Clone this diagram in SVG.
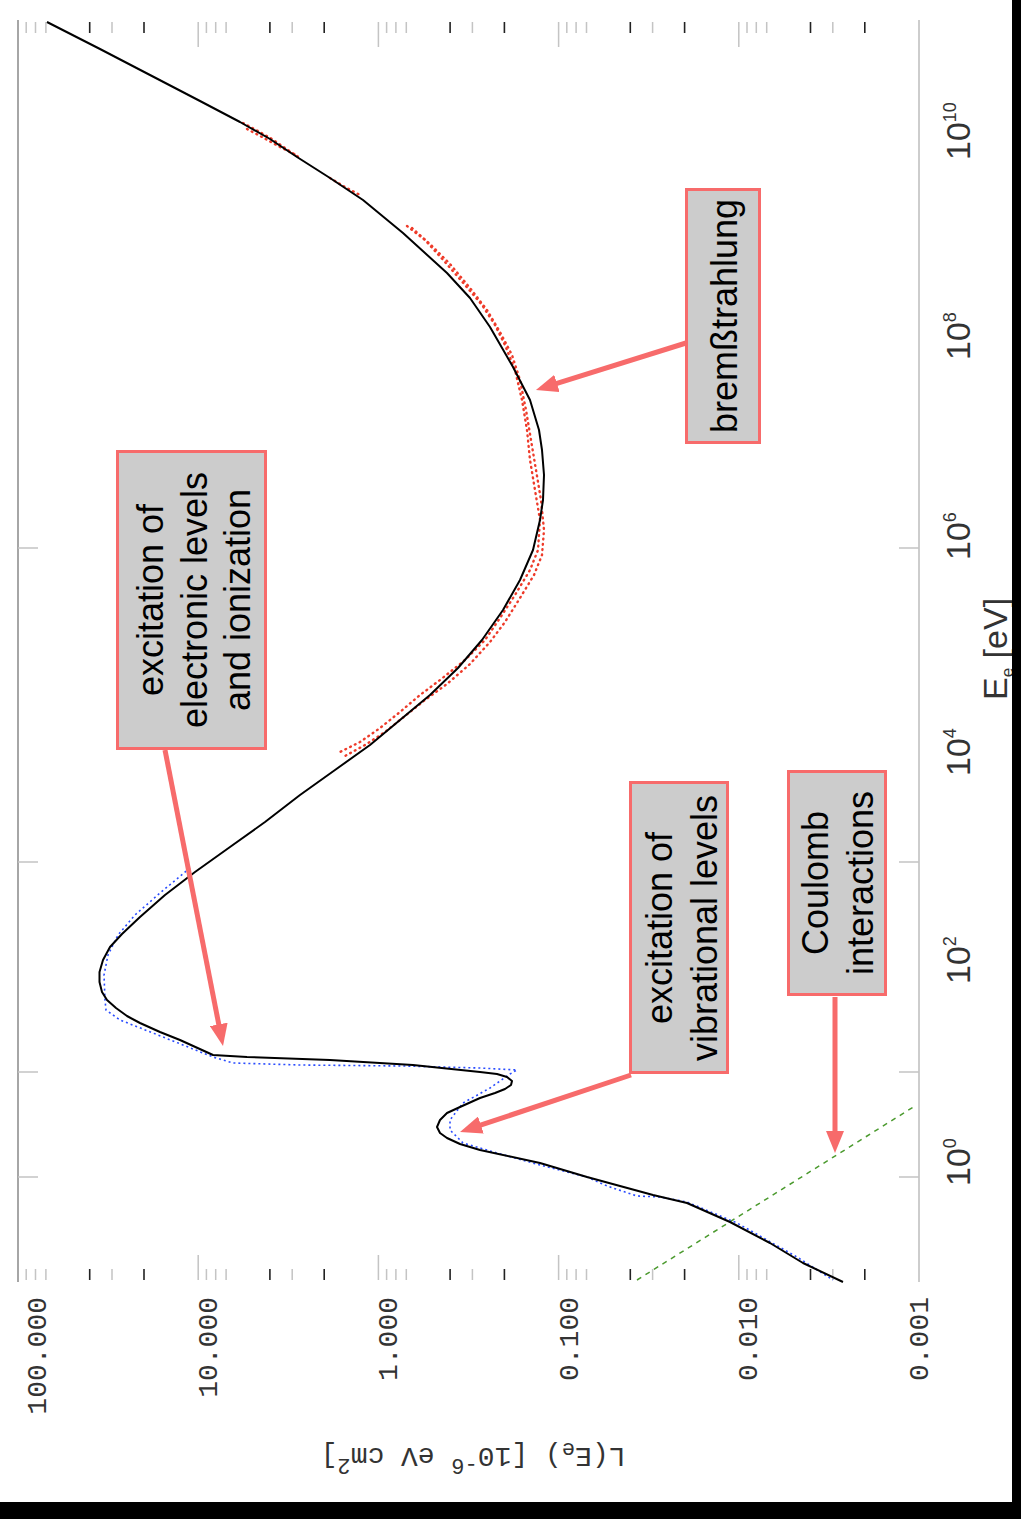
<svg xmlns="http://www.w3.org/2000/svg" width="1021" height="1519" viewBox="0 0 1021 1519">
<style>
.tk{stroke:#222;stroke-width:1.6;fill:none}
.tl{stroke:#c4c4c4;stroke-width:1.5;fill:none}
.ax{stroke:#bdbdbd;stroke-width:1.5;fill:none}
.ylab{font-family:"Liberation Mono","DejaVu Sans Mono",monospace;font-size:28px;fill:#333}
.xlab{font-family:"Liberation Sans",Arial,sans-serif;font-size:34px;fill:#333}
.box{fill:#cccccc;stroke:#f76b6b;stroke-width:3}
.lbl{font-family:"Liberation Sans",Arial,sans-serif;font-size:36px;fill:#000;text-anchor:middle}
.arr{stroke:#f76b6b;stroke-width:5;fill:none;marker-end:url(#ah)}
.blk{stroke:#000;stroke-width:2;fill:none;stroke-linejoin:round}
.blu{stroke:#2a4cff;stroke-width:1.6;fill:none;stroke-dasharray:2 3}
.red{stroke:#ee3b2a;stroke-width:2.4;fill:none;stroke-dasharray:0.8 4.5;stroke-linecap:round}
</style>
<defs>
<marker id="ah" markerUnits="userSpaceOnUse" viewBox="0 0 22 18" refX="10" refY="9" markerWidth="22" markerHeight="18" orient="auto"><path d="M0,0 L22,9 L0,18 Z" fill="#f76b6b"/></marker>
</defs>
<rect x="0" y="0" width="1021" height="1519" fill="#fff"/>

<g id="axes">
<path class="ax" d="M919,20 V1282"/>
<path stroke="#888" stroke-width="1.5" fill="none" d="M18,20 V1282"/>
<path class="tl" d="M198.2,22V47M378.4,22V47M558.6,22V47M738.8,22V47M198.2,1255V1280M378.4,1255V1280M558.6,1255V1280M738.8,1255V1280"/>
<path class="tl" d="M26.2,22V33M35.5,22V33M45.9,22V33M112,22V33M206.4,22V33M215.7,22V33M226.1,22V33M292.2,22V33M386.6,22V33M395.9,22V33M406.3,22V33M472.4,22V33M566.8,22V33M576.1,22V33M586.5,22V33M652.6,22V33M747,22V33M756.3,22V33M766.7,22V33M832.8,22V33"/>
<path class="tl" d="M26.2,1269V1280M35.5,1269V1280M45.9,1269V1280M112,1269V1280M206.4,1269V1280M215.7,1269V1280M226.1,1269V1280M292.2,1269V1280M386.6,1269V1280M395.9,1269V1280M406.3,1269V1280M472.4,1269V1280M566.8,1269V1280M576.1,1269V1280M586.5,1269V1280M652.6,1269V1280M747,1269V1280M756.3,1269V1280M766.7,1269V1280M832.8,1269V1280"/>
<path class="tk" d="M89.7,22V33M144,22V33M269.9,22V33M324.2,22V33M450.1,22V33M504.4,22V33M630.3,22V33M684.6,22V33M810.5,22V33M864.8,22V33"/>
<path class="tk" d="M89.7,1269V1280M144,1269V1280M269.9,1269V1280M324.2,1269V1280M450.1,1269V1280M504.4,1269V1280M630.3,1269V1280M684.6,1269V1280M810.5,1269V1280M864.8,1269V1280"/>
<path class="tl" d="M18,548H38M18,862H38M18,1072H38M18,1177H38M899,548H919M899,862H919M899,1072H919M899,1177H919"/>
<text class="ylab" text-anchor="end" transform="translate(46,1297) rotate(-90)">100.000</text>
<text class="ylab" text-anchor="end" transform="translate(217,1297) rotate(-90)">10.000</text>
<text class="ylab" text-anchor="end" transform="translate(397,1297) rotate(-90)">1.000</text>
<text class="ylab" text-anchor="end" transform="translate(578,1297) rotate(-90)">0.100</text>
<text class="ylab" text-anchor="end" transform="translate(757,1297) rotate(-90)">0.010</text>
<text class="ylab" text-anchor="end" transform="translate(928,1297) rotate(-90)">0.001</text>
<text class="ylab" font-size="32" text-anchor="middle" transform="translate(473,1448) rotate(180)">L(E<tspan font-size="22" dy="5">e</tspan><tspan dy="-5">) [10</tspan><tspan font-size="22" dy="-11">-6</tspan><tspan dy="11"> eV cm</tspan><tspan font-size="22" dy="-11">2</tspan><tspan dy="11">]</tspan></text>
<text class="xlab" transform="translate(970,1186) rotate(-90)">10<tspan font-size="18" dy="-14">0</tspan></text>
<text class="xlab" transform="translate(970,984) rotate(-90)">10<tspan font-size="18" dy="-14">2</tspan></text>
<text class="xlab" transform="translate(970,776) rotate(-90)">10<tspan font-size="18" dy="-14">4</tspan></text>
<text class="xlab" transform="translate(970,560) rotate(-90)">10<tspan font-size="18" dy="-14">6</tspan></text>
<text class="xlab" transform="translate(970,360) rotate(-90)">10<tspan font-size="18" dy="-14">8</tspan></text>
<text class="xlab" transform="translate(970,160) rotate(-90)">10<tspan font-size="18" dy="-14">10</tspan></text>
<text class="xlab" font-size="32" transform="translate(1007,700) rotate(-90)">E<tspan font-size="17" dy="6">e</tspan><tspan dy="-6"> [eV]</tspan></text>
</g>

<g id="data">
<path class="red" d="M243,123 L258,131 L272,139 L285,148 L300,158 M330,178 L345,187 L362,196"/>
<path class="red" d="M247,129 L262,137 L280,147 L296,155"/>
<path class="red" d="M407,226 L425,240 L445,262 L465,285 L482,305 L495,325 L505,345 L515,370 L522,400 L527,430 L530,460 L535,490 L540,520 L538,550 L530,570 L515,595 L500,618 L485,640 L465,660 L440,680 L420,695 L400,712 L380,728 L360,742 L340,752"/>
<path class="red" d="M412,228 L430,244 L450,264 L470,288 L487,310 L500,332 L512,355 L520,380 L526,410 L531,440 L536,470 L541,500 L544,530 L542,555 L534,575 L520,598 L505,622 L490,642 L470,664 L447,684 L425,700 L405,716 L385,732 L365,745 L345,756"/>
<path class="green" d="M637,1280 L915,1106" stroke="#4b9a2e" stroke-width="1.5" stroke-dasharray="5 5" fill="none"/>
<path class="blu" d="M190,868 L160,893 L135,915 L118,935 L108,955 L104,975 L105,1000 L106,1010 L120,1020 L163,1037 L213,1057 L233,1063 L300,1065 L403,1066 L480,1068 L517,1070 L510,1074 L490,1088 L463,1103 L450,1120 L450,1130 L463,1143 L497,1153 L540,1165 L587,1177 L605,1185 L613,1188 L637,1196 L660,1197 L687,1202 L737,1223 L797,1257 L833,1280"/>
<path class="blk" d="M47,22 L100,49 L150,75 L200,101 L240,122 L270,139 L297,157 L330,178 L363,200 L403,233 L447,273 L470,298 L490,327 L513,367 L530,400 L539,430 L542,450 L544,475 L543,500 L540,520 L533,550 L520,580 L503,610 L482,640 L458,668 L430,695 L400,720 L370,745 L335,770 L300,795 L265,822 L230,847 L195,872 L165,895 L140,917 L122,934 L110,947 L103,960 L99.5,972 L99.5,982 L102,992 L107,1000 L116,1008 L127,1016 L140,1023 L160,1032 L180,1040 L213,1055 L247,1057 L330,1060 L413,1065 L480,1072 L497,1074 L507,1077 L512,1081 L511,1085 L505,1089 L495,1093 L480,1098 L460,1107 L447,1113 L440,1120 L437,1127 L440,1133 L447,1138 L460,1144 L480,1150 L540,1163 L587,1177 L653,1195 L687,1203 L730,1222 L770,1243 L803,1263 L843,1282"/>
</g>

<g id="connectors">
<path class="arr" d="M686,343 L547.4,386.4"/>
<path class="arr" d="M165,750 L220.7,1034.2"/>
<path class="arr" d="M631,1075 L471.4,1128.2"/>
<path class="arr" d="M835,997 L835,1141"/>
</g>

<g id="bremsstrahlung">
<rect class="box" x="686.5" y="189.5" width="73" height="253"/>
<text class="lbl" transform="translate(737,316) rotate(-90)">bremßtrahlung</text>
</g>
<g id="electronic">
<rect class="box" x="117.5" y="451.5" width="148" height="297"/>
<text class="lbl" transform="translate(163,600) rotate(-90)">excitation of</text>
<text class="lbl" transform="translate(206.5,600) rotate(-90)">electronic levels</text>
<text class="lbl" transform="translate(250,600) rotate(-90)">and ionization</text>
</g>
<g id="vibrational">
<rect class="box" x="630.5" y="782.5" width="97" height="290"/>
<text class="lbl" transform="translate(672,928) rotate(-90)">excitation of</text>
<text class="lbl" transform="translate(717,928) rotate(-90)">vibrational levels</text>
</g>
<g id="coulomb">
<rect class="box" x="788.5" y="771.5" width="97" height="223"/>
<text class="lbl" transform="translate(828,883) rotate(-90)">Coulomb</text>
<text class="lbl" transform="translate(873,883) rotate(-90)">interactions</text>
</g>

<rect x="1012" y="0" width="9" height="1519" fill="#000"/>
<rect x="0" y="1502" width="1021" height="17" fill="#000"/>
</svg>
